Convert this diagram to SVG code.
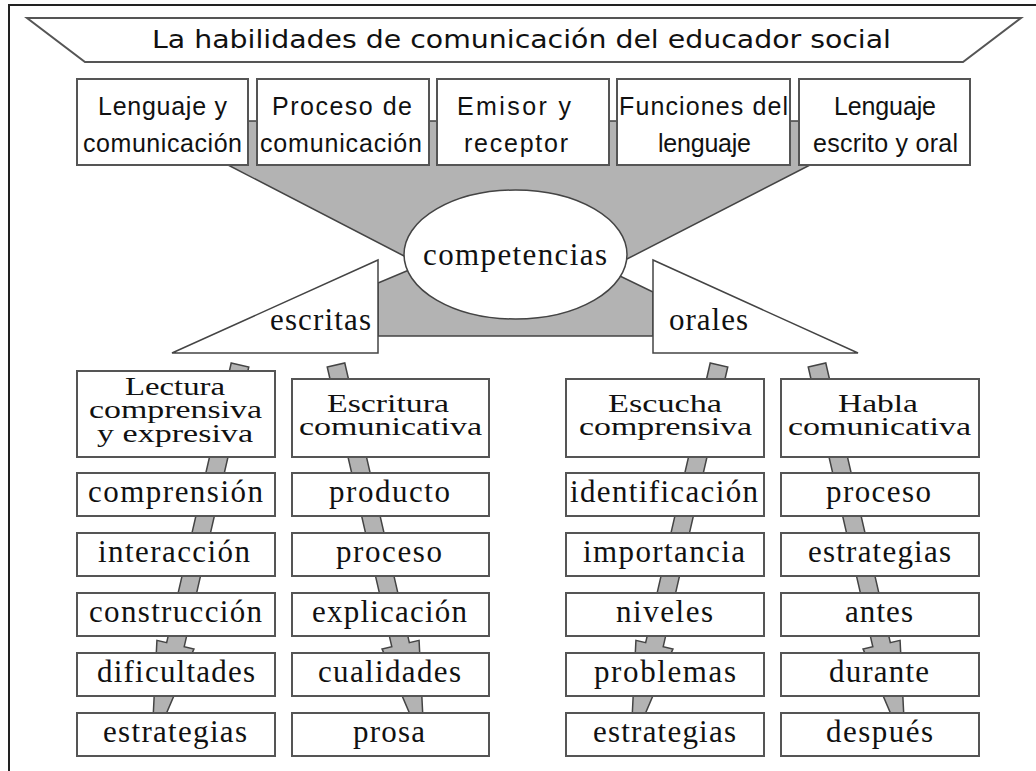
<svg xmlns="http://www.w3.org/2000/svg" width="1036" height="771" viewBox="0 0 1036 771">
<style>
.frame{fill:none;stroke:#222;stroke-width:2}
.box{fill:#fff;stroke:#555;stroke-width:2}
.gray{fill:#b3b3b3;stroke:#444;stroke-width:1.5;stroke-linejoin:miter}
.wshape{fill:#fff;stroke:#444;stroke-width:1.5}
.sans{font-family:"Liberation Sans",Arial,sans-serif;font-size:25px;fill:#111;text-anchor:middle}
.title{font-family:"DejaVu Sans",Verdana,sans-serif;font-size:25px;fill:#111;text-anchor:middle}
.ser{font-family:"Liberation Serif","Times New Roman",serif;font-size:31px;fill:#111;text-anchor:middle}
.ser2{font-family:"Liberation Serif","Times New Roman",serif;font-size:26px;fill:#111;text-anchor:middle}
.lbl{font-family:"Liberation Serif","Times New Roman",serif;font-size:31px;fill:#111}
</style>
<defs>
<path id="arr" d="M-9,0 L9,0 L9,287 L19,287 L0,393 L-19,287 L-9,287 Z"/>
</defs>
<rect width="1036" height="771" fill="#fff"/>
<path class="frame" d="M9,771 L9,5 L1036,5"/>

<g id="title">
<polygon class="box" points="27,18 1021,18 963,62 85,62"/>
<text class="title" x="521.5" y="48" textLength="739" lengthAdjust="spacingAndGlyphs">La habilidades de comunicación del educador social</text>
</g>

<g id="connectors">
<polygon class="gray" points="228,121 810,121 810,165 627,259 404,256 228,165"/>
<polygon class="gray" points="440,257 378,283 378,336 653,336 653,292 590,261.5"/>
<use href="#arr" class="gray" transform="translate(240,365) rotate(13)"/>
<use href="#arr" class="gray" transform="translate(336,365) rotate(-13)"/>
<use href="#arr" class="gray" transform="translate(719,365) rotate(13)"/>
<use href="#arr" class="gray" transform="translate(817,365) rotate(-13)"/>
</g>

<g id="top1"><rect class="box" x="77" y="79" width="171" height="86"/>
<text class="sans" x="162.5" y="115" textLength="129" lengthAdjust="spacing">Lenguaje y</text>
<text class="sans" x="162.5" y="152" textLength="159" lengthAdjust="spacing">comunicación</text></g>
<g id="top2"><rect class="box" x="257" y="79" width="172" height="86"/>
<text class="sans" x="342" y="115" textLength="140" lengthAdjust="spacing">Proceso de</text>
<text class="sans" x="341" y="152" textLength="162" lengthAdjust="spacing">comunicación</text></g>
<g id="top3"><rect class="box" x="437" y="79" width="172" height="86"/>
<text class="sans" x="514" y="115" textLength="114" lengthAdjust="spacing">Emisor y</text>
<text class="sans" x="516" y="152" textLength="104" lengthAdjust="spacing">receptor</text></g>
<g id="top4"><rect class="box" x="617" y="79" width="173" height="86"/>
<text class="sans" x="703.5" y="115" textLength="169" lengthAdjust="spacing">Funciones del</text>
<text class="sans" x="704.5" y="152" textLength="93" lengthAdjust="spacing">lenguaje</text></g>
<g id="top5"><rect class="box" x="799" y="79" width="171" height="86"/>
<text class="sans" x="885" y="115" textLength="102" lengthAdjust="spacing">Lenguaje</text>
<text class="sans" x="885.5" y="152" textLength="145" lengthAdjust="spacing">escrito y oral</text></g>

<g id="competencias"><ellipse class="wshape" cx="515.5" cy="254.5" rx="111.5" ry="64.5"/>
<text class="ser" x="515" y="265" textLength="184" lengthAdjust="spacing">competencias</text></g>
<g id="escritas"><polygon class="wshape" points="172,353 378,260 378,353"/>
<text class="lbl" x="270" y="330" textLength="101" lengthAdjust="spacing">escritas</text></g>
<g id="orales"><polygon class="wshape" points="653,260 653,353 858,353"/>
<text class="lbl" x="669" y="330" textLength="79" lengthAdjust="spacing">orales</text></g>

<g id="lectura"><rect class="box" x="77" y="371" width="198" height="86"/>
<text class="ser2" x="175" y="395" textLength="100" lengthAdjust="spacingAndGlyphs">Lectura</text>
<text class="ser2" x="175.5" y="418" textLength="173" lengthAdjust="spacingAndGlyphs">comprensiva</text>
<text class="ser2" x="175" y="442" textLength="156" lengthAdjust="spacingAndGlyphs">y expresiva</text></g>
<g id="l1"><rect class="box" x="77" y="473" width="198" height="43"/><text class="ser" x="175.5" y="502" textLength="175" lengthAdjust="spacing">comprensión</text></g>
<g id="l2"><rect class="box" x="77" y="533" width="198" height="43"/><text class="ser" x="174" y="562" textLength="152" lengthAdjust="spacing">interacción</text></g>
<g id="l3"><rect class="box" x="77" y="593" width="198" height="43"/><text class="ser" x="175.5" y="622" textLength="173" lengthAdjust="spacing">construcción</text></g>
<g id="l4"><rect class="box" x="77" y="653" width="198" height="43"/><text class="ser" x="176" y="682" textLength="158" lengthAdjust="spacing">dificultades</text></g>
<g id="l5"><rect class="box" x="77" y="713" width="198" height="43"/><text class="ser" x="175" y="742" textLength="144" lengthAdjust="spacing">estrategias</text></g>

<g id="escritura"><rect class="box" x="292" y="379" width="197" height="78"/>
<text class="ser2" x="388" y="412" textLength="122" lengthAdjust="spacingAndGlyphs">Escritura</text>
<text class="ser2" x="390.5" y="435" textLength="183" lengthAdjust="spacingAndGlyphs">comunicativa</text></g>
<g id="e1"><rect class="box" x="292" y="473" width="197" height="43"/><text class="ser" x="389.5" y="502" textLength="121" lengthAdjust="spacing">producto</text></g>
<g id="e2"><rect class="box" x="292" y="533" width="197" height="43"/><text class="ser" x="389" y="562" textLength="106" lengthAdjust="spacing">proceso</text></g>
<g id="e3"><rect class="box" x="292" y="593" width="197" height="43"/><text class="ser" x="389.5" y="622" textLength="155" lengthAdjust="spacing">explicación</text></g>
<g id="e4"><rect class="box" x="292" y="653" width="197" height="43"/><text class="ser" x="389.5" y="682" textLength="143" lengthAdjust="spacing">cualidades</text></g>
<g id="e5"><rect class="box" x="292" y="713" width="197" height="43"/><text class="ser" x="389" y="742" textLength="72" lengthAdjust="spacing">prosa</text></g>

<g id="escucha"><rect class="box" x="566" y="379" width="198" height="78"/>
<text class="ser2" x="665" y="412" textLength="114" lengthAdjust="spacingAndGlyphs">Escucha</text>
<text class="ser2" x="665.5" y="435" textLength="173" lengthAdjust="spacingAndGlyphs">comprensiva</text></g>
<g id="s1"><rect class="box" x="566" y="473" width="198" height="43"/><text class="ser" x="664" y="502" textLength="188" lengthAdjust="spacing">identificación</text></g>
<g id="s2"><rect class="box" x="566" y="533" width="198" height="43"/><text class="ser" x="664" y="562" textLength="162" lengthAdjust="spacing">importancia</text></g>
<g id="s3"><rect class="box" x="566" y="593" width="198" height="43"/><text class="ser" x="664.5" y="622" textLength="97" lengthAdjust="spacing">niveles</text></g>
<g id="s4"><rect class="box" x="566" y="653" width="198" height="43"/><text class="ser" x="665" y="682" textLength="142" lengthAdjust="spacing">problemas</text></g>
<g id="s5"><rect class="box" x="566" y="713" width="198" height="43"/><text class="ser" x="664.5" y="742" textLength="143" lengthAdjust="spacing">estrategias</text></g>

<g id="habla"><rect class="box" x="781" y="379" width="198" height="78"/>
<text class="ser2" x="878" y="412" textLength="80" lengthAdjust="spacingAndGlyphs">Habla</text>
<text class="ser2" x="879.5" y="435" textLength="183" lengthAdjust="spacingAndGlyphs">comunicativa</text></g>
<g id="h1"><rect class="box" x="781" y="473" width="198" height="43"/><text class="ser" x="878.5" y="502" textLength="105" lengthAdjust="spacing">proceso</text></g>
<g id="h2"><rect class="box" x="781" y="533" width="198" height="43"/><text class="ser" x="879.5" y="562" textLength="143" lengthAdjust="spacing">estrategias</text></g>
<g id="h3"><rect class="box" x="781" y="593" width="198" height="43"/><text class="ser" x="879" y="622" textLength="68" lengthAdjust="spacing">antes</text></g>
<g id="h4"><rect class="box" x="781" y="653" width="198" height="43"/><text class="ser" x="879" y="682" textLength="100" lengthAdjust="spacing">durante</text></g>
<g id="h5"><rect class="box" x="781" y="713" width="198" height="43"/><text class="ser" x="879.5" y="742" textLength="107" lengthAdjust="spacing">después</text></g>
</svg>
